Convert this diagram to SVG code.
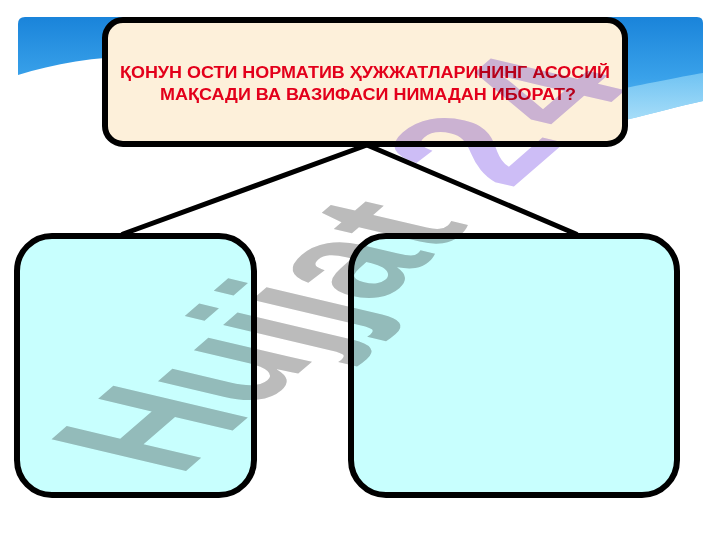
<svg xmlns="http://www.w3.org/2000/svg" width="720" height="540" viewBox="0 0 720 540">
  <defs>
    <linearGradient id="sky" x1="0" y1="0" x2="0" y2="1">
      <stop offset="0" stop-color="#1A84DA"/>
      <stop offset="0.6" stop-color="#3AA2EA"/>
      <stop offset="1" stop-color="#6CC2F2"/>
    </linearGradient>
    <linearGradient id="skyLight" x1="0" y1="0" x2="0" y2="1">
      <stop offset="0" stop-color="#7FCCF5"/>
      <stop offset="1" stop-color="#B5E4FA"/>
    </linearGradient>
    <style>
      .box { stroke: #000; stroke-width: 6; }
      .title { fill: #FDF0DA; }
      .leaf { fill: #C8FFFE; }
      .conn { stroke: #000; stroke-width: 5; fill: none; stroke-linecap: round; }
      .q { font-family: "Liberation Sans", Arial, sans-serif; font-weight: bold; font-size: 16px; fill: #E3001B; text-anchor: middle; }
      .wm { font-family: "Liberation Sans", Arial, sans-serif; font-weight: bold; font-size: 100px; mix-blend-mode: multiply; }
    </style>
  </defs>
  <rect width="720" height="540" fill="#FFFFFF"/>
  <g id="background">
    <path d="M18,24 Q18,17 25,17 L697,17 Q703,17 703,23 L703,101 C680,106 655,113 625,120 L320,110 C220,40 100,50 18,75 Z" fill="url(#sky)"/>
    <path d="M625,88 C655,82 685,76 703,73 L703,101 C680,106 655,113 625,120 Z" fill="url(#skyLight)" opacity="0.8"/>
  </g>
  <g id="connectors">
    <line class="conn" x1="367" y1="145" x2="123" y2="234"/>
    <line class="conn" x1="367" y1="145" x2="576" y2="234"/>
  </g>
  <g id="node-question">
    <rect class="box title" x="105" y="20" width="520" height="124" rx="18"/>
    <text class="q" x="365" y="78" textLength="490" lengthAdjust="spacingAndGlyphs">ҚОНУН ОСТИ НОРМАТИВ ҲУЖЖАТЛАРИНИНГ АСОСИЙ</text>
    <text class="q" x="368" y="99.5" textLength="416" lengthAdjust="spacingAndGlyphs">МАҚСАДИ ВА ВАЗИФАСИ НИМАДАН ИБОРАТ?</text>
  </g>
  <g id="node-left">
    <rect class="box leaf" x="17" y="236" width="237" height="259" rx="35"/>
  </g>
  <g id="node-right">
    <rect class="box leaf" x="351" y="236" width="326" height="259" rx="35"/>
  </g>
  <g id="watermark">
    <text class="wm" transform="matrix(1.05,-0.91,1.955,0.46,179,477)"><tspan fill="#BBBBBB">Hujjat </tspan><tspan fill="#CDBDF6" dx="10">2</tspan><tspan fill="#CDBDF6" dx="8">4</tspan></text>
  </g>
</svg>
